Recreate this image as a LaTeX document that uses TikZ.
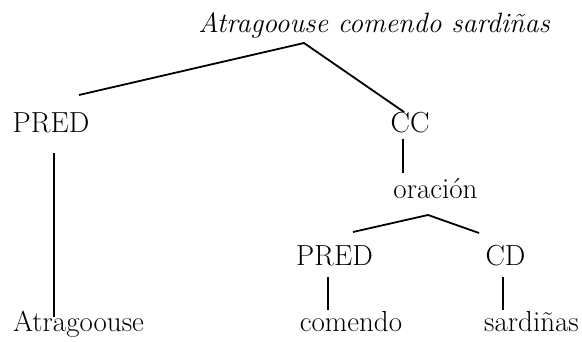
\documentclass[tikz,border=0pt]{standalone}
\usepackage{tikz}
\usetikzlibrary{calc}
\tikzset{word/.style={inner sep=0pt,anchor=base,font=\fontsize{29}{33}\selectfont}}
\tikzset{branch/.style={line width=1.8pt}}

\begin{document}
\begin{tikzpicture}[x=1pt,y=-1pt]
        \useasboundingbox (0,0) rectangle (582,342);

        \node[word,font=\fontsize{28}{32}\selectfont\itshape] (frase) at (374,33) {Atragoouse comendo sardiñas};
        \node[word] (predA) at (51,133) {PRED};
        \node[word] (cc) at (410,133) {CC};
        \node[word] (orac) at (435.5,199) {oración};
        \node[word] (predB) at (334.5,266) {PRED};
        \node[word] (cd) at (505.5,266) {CD};
        \node[word] (atrag) at (78.5,332) {Atragoouse};
        \node[word] (comendo) at (351,332) {comendo};
        \node[word] (sard) at (531.5,332) {sardiñas};

        \draw[branch] ([xshift=28pt,yshift=38pt]predA.base)
            -- ([xshift=-70pt,yshift=-10pt]frase.base)
            -- ([xshift=-6pt,yshift=21pt]cc.base);
        \draw[branch] ([xshift=3pt,yshift=-20pt]predA.base)
            -- ([xshift=-24.5pt,yshift=15pt]atrag.base);
        \draw[branch] ([xshift=-7pt,yshift=-6pt]cc.base)
            -- ([xshift=-32.5pt,yshift=26pt]orac.base);
        \draw[branch] ([xshift=18.5pt,yshift=34pt]predB.base)
            -- ([xshift=-7.5pt,yshift=-16pt]orac.base)
            -- ([xshift=-26.5pt,yshift=33pt]cd.base);
        \draw[branch] ([xshift=-6.5pt,yshift=-11pt]predB.base)
            -- ([xshift=-23pt,yshift=22pt]comendo.base);
        \draw[branch] ([xshift=-2.5pt,yshift=-11pt]cd.base)
            -- ([xshift=-28.5pt,yshift=22pt]sard.base);
\end{tikzpicture}
\end{document}
